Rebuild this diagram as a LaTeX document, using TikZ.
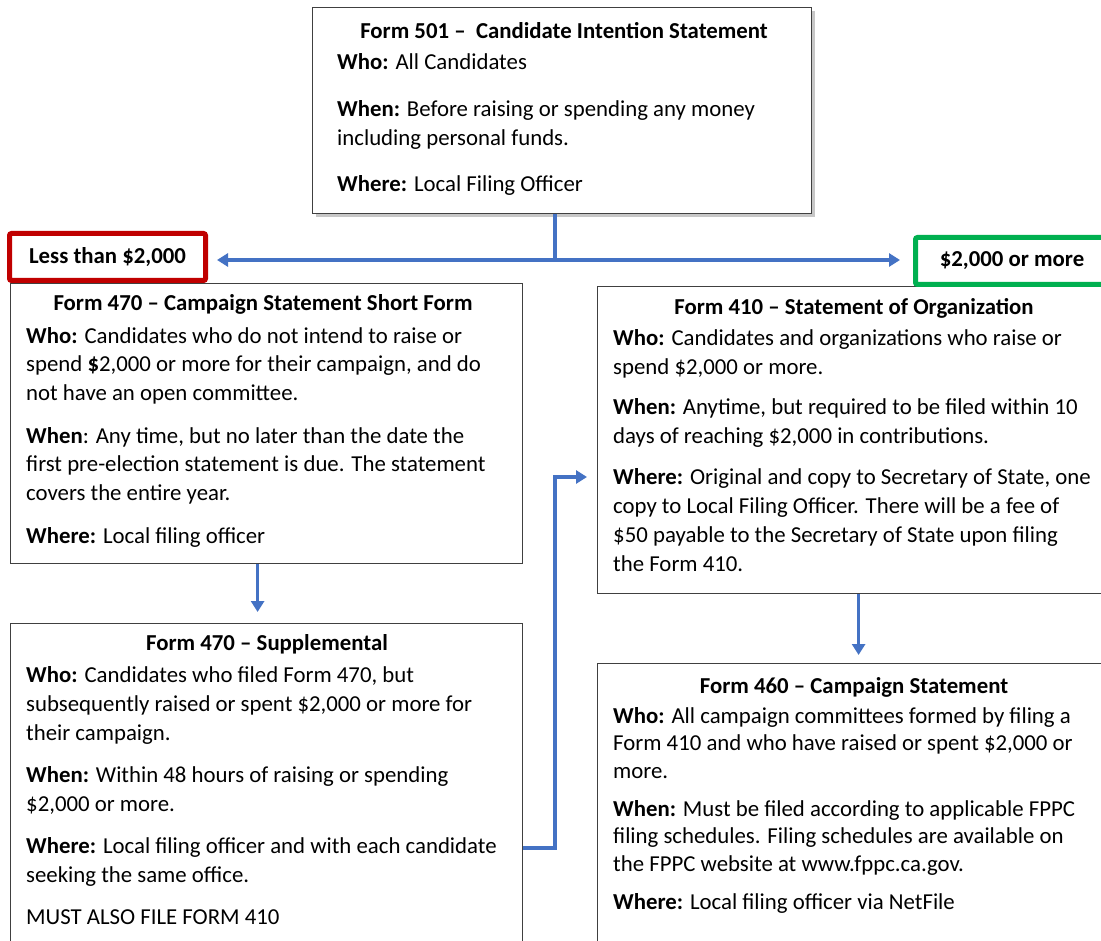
\documentclass[tikz,border=0pt]{standalone}
\usepackage{fontspec}
\setmainfont{Carlito}
\usetikzlibrary{arrows.meta,shadows}
\definecolor{conblue}{HTML}{4472C4}
\definecolor{redb}{HTML}{C00000}
\definecolor{greenb}{HTML}{00B050}
\definecolor{boxgray}{HTML}{404040}
\tikzset{
  formbox/.style={draw=boxgray, line width=1.2pt, fill=white, rectangle, anchor=north west, inner sep=0pt},
  titletext/.style={anchor=base, inner sep=0pt, font=\fontsize{22.8}{28.5}\selectfont\bfseries},
  bodytext/.style={anchor=base west, inner sep=0pt, align=left},
  conn/.style={draw=conblue, line width=3.5pt},
  arr/.style={conn, -{Triangle[length=11pt,width=13pt]}},
  tagbox/.style={rectangle, line width=5pt, fill=white, rounded corners=2pt, inner sep=0pt,
    minimum height=47pt, font=\fontsize{22.8}{26}\selectfont\bfseries}
}
\begin{document}
\begin{tikzpicture}[x=1pt,y=-1pt]
\useasboundingbox (0,0) rectangle (1101,941);
\clip (0,0) rectangle (1101,941);
\fill[white] (0,0) rectangle (1101,941);

% boxes
\node[formbox, minimum width=499pt, minimum height=206pt,
  drop shadow={shadow xshift=3pt, shadow yshift=-3pt, fill=black, opacity=0.22}] (f501) at (312,7) {};
\node[formbox, minimum width=512pt, minimum height=280pt] (f470) at (10,283) {};
\node[formbox, minimum width=512pt, minimum height=337pt] (fsup) at (10,623) {};
\node[formbox, minimum width=514pt, minimum height=307pt] (f410) at (597,286) {};
\node[formbox, minimum width=514pt, minimum height=297pt] (f460) at (597,663) {};

% tags
\node[tagbox, draw=redb, minimum width=196pt] (lt) at (107.5,257) {Less than \$2,000};
\node[tagbox, draw=greenb, minimum width=193pt] (gt) at (1012,261) {\$2,000 or more};

% texts (body nodes are placed by the baseline of their last line)
\node[titletext] (t501) at (564,39) {Form 501 –~ Candidate Intention Statement};
\node[bodytext, font=\fontsize{22.8}{29}\selectfont] (b501) at (337,192) {\textbf{Who:} All Candidates\\[17.5pt]
\textbf{When:} Before raising or spending any money\\
including personal funds.\\[17.5pt]
\textbf{Where:} Local Filing Officer};

\node[titletext] (t470) at (263,311) {Form 470 – Campaign Statement Short Form};
\node[bodytext, font=\fontsize{22.8}{28.5}\selectfont] (b470) at (26,543) {\textbf{Who:} Candidates who do not intend to raise or\\
spend \textbf{\$}2,000 or more for their campaign, and do\\
not have an open committee.\\[14.5pt]
\textbf{When}: Any time, but no later than the date the\\
first pre-election statement is due. The statement\\
covers the entire year.\\[14.5pt]
\textbf{Where:} Local filing officer};

\node[titletext] (tsup) at (267,650) {Form 470 – Supplemental};
\node[bodytext, font=\fontsize{22.8}{29}\selectfont] (bsup) at (26,924) {\textbf{Who:} Candidates who filed Form 470, but\\
subsequently raised or spent \$2,000 or more for\\
their campaign.\\[13pt]
\textbf{When:} Within 48 hours of raising or spending\\
\$2,000 or more.\\[13pt]
\textbf{Where:} Local filing officer and with each candidate\\
seeking the same office.\\[13pt]
MUST ALSO FILE FORM 410};

\node[titletext] (t410) at (854,315) {Form 410 – Statement of Organization};
\node[bodytext, font=\fontsize{22.8}{29}\selectfont] (b410) at (613,571) {\textbf{Who:} Candidates and organizations who raise or\\
spend \$2,000 or more.\\[11.5pt]
\textbf{When:} Anytime, but required to be filed within 10\\
days of reaching \$2,000 in contributions.\\[11.5pt]
\textbf{Where:} Original and copy to Secretary of State, one\\
copy to Local Filing Officer. There will be a fee of\\
\$50 payable to the Secretary of State upon filing\\
the Form 410.};

\node[titletext] (t460) at (854,693) {Form 460 – Campaign Statement};
\node[bodytext, font=\fontsize{22.8}{27.5}\selectfont] (b460) at (613,909) {\textbf{Who:} All campaign committees formed by filing a\\
Form 410 and who have raised or spent \$2,000 or\\
more.\\[10.5pt]
\textbf{When:} Must be filed according to applicable FPPC\\
filing schedules. Filing schedules are available on\\
the FPPC website at www.fppc.ca.gov.\\[10.5pt]
\textbf{Where:} Local filing officer via NetFile};

% connectors
\coordinate (split) at (555,260);
\draw[conn] (split |- f501.south) -- (split);
\draw[arr, shorten >=9pt] (split) -- (lt.east |- split);
\draw[arr, shorten >=13pt] (split) -- (gt.west |- split);
\draw[arr, shorten >=11pt] ([xshift=-9pt]f470.south) -- ([xshift=-9pt]fsup.north);
\draw[arr, shorten >=8pt] ([xshift=4pt]f410.south) -- ([xshift=4pt]f460.north);
\coordinate (e1) at (555,848);
\coordinate (e2) at (555,477);
\draw[arr, shorten >=10pt] (fsup.east |- e1) -- (e1) -- (e2) -- (f410.west |- e2);
\end{tikzpicture}
\end{document}
